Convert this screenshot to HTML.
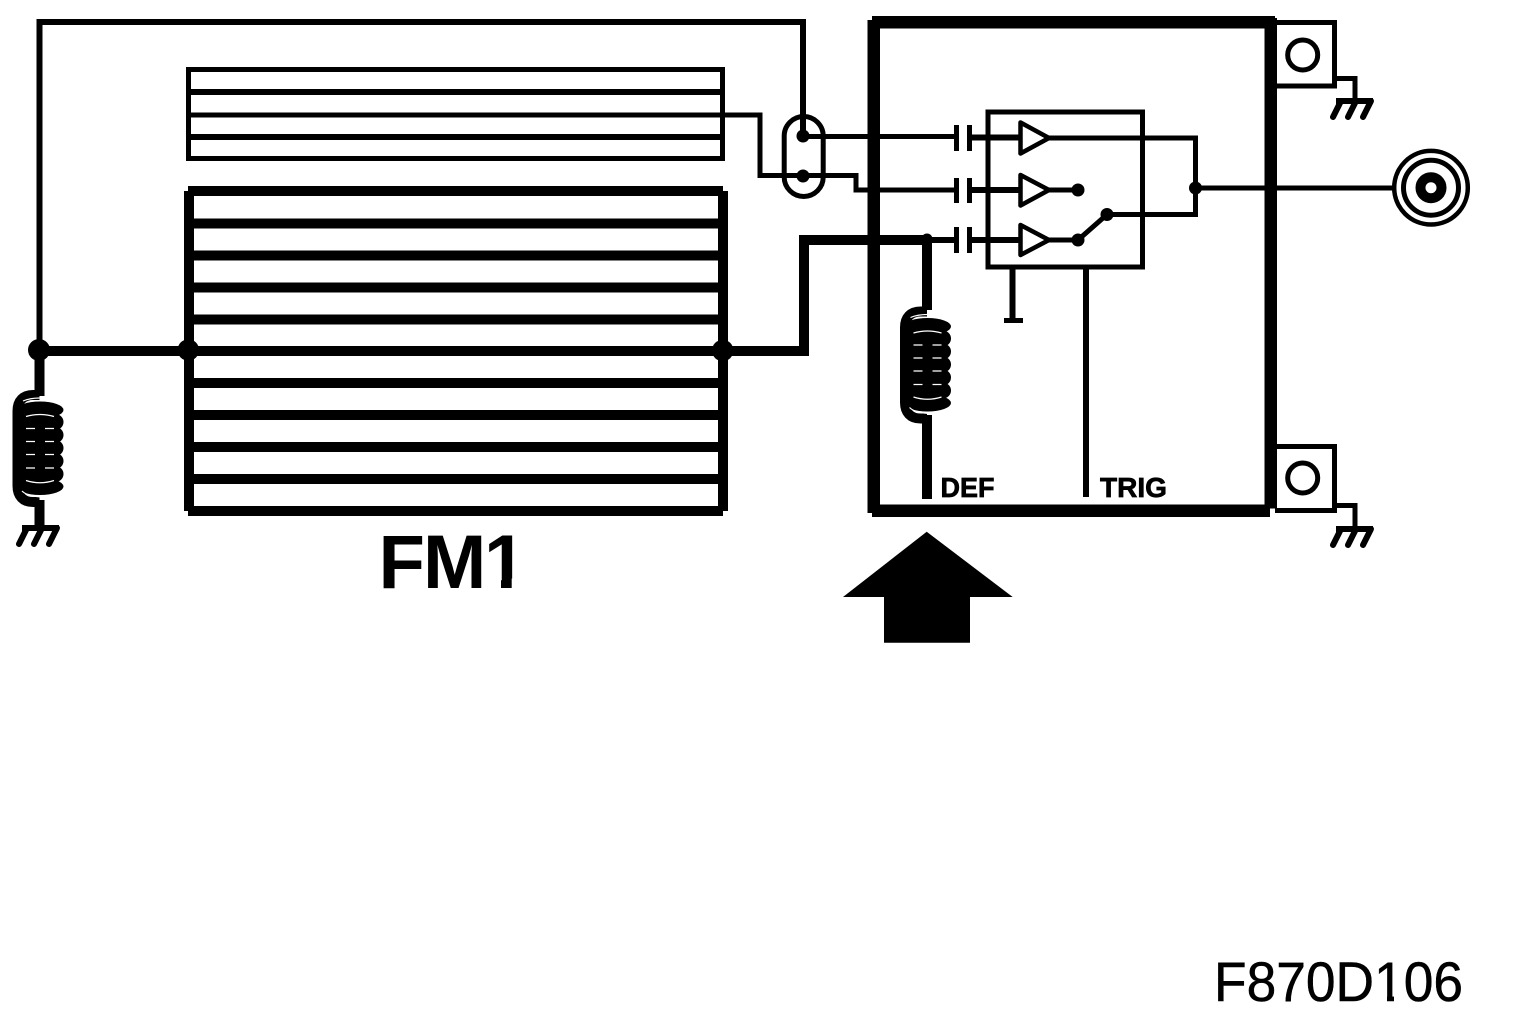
<!DOCTYPE html>
<html>
<head>
<meta charset="utf-8">
<style>
html,body{margin:0;padding:0;background:#fff;width:1520px;height:1028px;overflow:hidden}
svg{display:block}
text{font-family:"Liberation Sans",sans-serif;fill:#000}
</style>
</head>
<body>
<svg width="1520" height="1028" viewBox="0 0 1520 1028" xmlns="http://www.w3.org/2000/svg">
<defs>
  <g id="coil">
    <path d="M39.5 395 H33 C23 395 17.500 401 17.500 411 V486 C17.500 496 23 502 33 502 H39.5" fill="none" stroke="#000" stroke-width="10"/>
    <rect x="17" y="408" width="39.500" height="80" fill="#000"/>
    <g fill="#000">
      <ellipse cx="40" cy="410" rx="23.500" ry="8.500"/>
      <ellipse cx="40" cy="486.500" rx="23.500" ry="8.500"/>
      <circle cx="55.500" cy="422" r="8"/>
      <circle cx="55.500" cy="435" r="8"/>
      <circle cx="55.500" cy="448" r="8"/>
      <circle cx="55.500" cy="461" r="8"/>
      <circle cx="55.500" cy="474" r="8"/>
    </g>
    <g fill="none" stroke="#fff" stroke-width="1.200">
      <path d="M23 401 Q30 398 40 398"/>
      <path d="M22 491 Q28 497 44 497"/>
      <path d="M26 416.500 Q40 412.500 54 416.500"/>
      <path d="M26 428.500 H35 M45 428.500 H54"/>
      <path d="M26 441.500 H35 M45 441.500 H54"/>
      <path d="M26 454.500 H35 M45 454.500 H54"/>
      <path d="M26 468 H35 M45 468 H54"/>
      <path d="M26 480.500 Q40 485 54 480.500"/>
    </g>
  </g>
  <g id="gnd" fill="none" stroke="#000" stroke-width="6">
    <path d="M0 3 H37" />
    <path d="M5 3 L-3 19 M20 3 L12 19 M35 3 L27 19" stroke-linecap="round"/>
  </g>
</defs>

<rect width="1520" height="1028" fill="#fff"/>

<g fill="none" stroke="#000" shape-rendering="crispEdges">
  <!-- upper thin FM -->
  <rect x="188.500" y="69.500" width="534" height="89" stroke-width="5"/>
  <path d="M188 92 H723 M188 137 H723" stroke-width="6"/>
  <path d="M188 115 H760 V175.500 H856 V190 H954" stroke-width="5"/>
  <!-- big FM -->
  <path d="M188 191 H723 M188 511 H723" stroke-width="10"/>
  <path d="M189 191 V511 M723 191 V511" stroke-width="10"/>
  <path d="M188 223.500 H723 M188 255.500 H723 M188 287.500 H723 M188 319.500 H723 M188 383 H723 M188 415 H723 M188 447 H723 M188 479 H723" stroke-width="10"/>
  <!-- bus -->
  <path d="M39 351 H804 V240 H927" stroke-width="10"/>
  <path d="M39.700 350 V22 H803 V136" stroke-width="6"/>
  <path d="M39.500 350 V396 M39.500 500 V527" stroke-width="10"/>
  <!-- main box -->
  <path d="M873.700 20 V513 M1270.500 18 V508.500" stroke-width="12.500"/>
  <path d="M872 22 H1275 M872 510.500 H1270" stroke-width="12.500"/>
  <!-- inputs -->
  <path d="M803 136.500 H954" stroke-width="5"/>
  <path d="M927 240 H954" stroke-width="6"/>
  <!-- caps -->
  <path d="M956.500 125 V151 M969.500 125 V151 M956.500 178 V203 M969.500 178 V203 M956.500 227 V253 M969.500 227 V253" stroke-width="5"/>
  <path d="M970 137.500 H1020 M970 190 H1020 M970 240 H1020" stroke-width="6"/>
  <!-- switch box -->
  <rect x="988" y="112" width="154.500" height="155" stroke-width="5"/>
  <!-- output wires -->
  <path d="M1048 138 H1195.500 V214.500 H1107" stroke-width="5"/>
  <path d="M1048 190 H1078 M1048 240 H1078" stroke-width="5"/>
  <path d="M1195 188 H1393" stroke-width="5"/>
  <!-- lower wires -->
  <path d="M927 240 V310 M927 415 V499" stroke-width="10"/>
  <path d="M1012.500 267 V320" stroke-width="6"/>
  <path d="M1004 320.500 H1023" stroke-width="5"/>
  <path d="M1086 267 V497" stroke-width="6"/>
  <!-- right small boxes -->
  <path d="M1275 22.500 H1334.500 V86 H1275" stroke-width="5"/>
  <path d="M1275 446.500 H1334.500 V510.500 H1275" stroke-width="5"/>
  <path d="M1335 78.500 H1355 V99" stroke-width="5"/>
  <path d="M1335 505.500 H1355 V527" stroke-width="5"/>
</g>

<!-- curved / diagonal items -->
<g fill="none" stroke="#000">
  <rect x="784.200" y="116.500" width="39" height="80" rx="19.500" ry="19.500" stroke-width="5"/>
  <polygon points="1020.500,122.500 1049,138 1020.500,153.500" stroke-width="4.500" stroke-linejoin="round"/>
  <polygon points="1020.500,175 1049,190 1020.500,205.500" stroke-width="4.500" stroke-linejoin="round"/>
  <polygon points="1020.500,225 1049,240 1020.500,255" stroke-width="4.500" stroke-linejoin="round"/>
  <path d="M1078 240 L1107 214.500" stroke-width="5"/>
  <circle cx="1302.700" cy="55" r="15" stroke-width="5"/>
  <circle cx="1302.700" cy="478" r="15" stroke-width="5"/>
  <circle cx="1431" cy="187.700" r="36.800" stroke-width="4.500"/>
  <circle cx="1431" cy="187.700" r="27.500" stroke-width="5"/>
  <circle cx="1431" cy="187.700" r="10.500" stroke-width="10"/>
</g>

<!-- dots -->
<g fill="#000">
  <circle cx="39" cy="350" r="11"/>
  <circle cx="188.300" cy="350" r="10.700"/>
  <circle cx="722.700" cy="350.500" r="10.700"/>
  <circle cx="803" cy="136" r="6.500"/>
  <circle cx="803" cy="176" r="6.500"/>
  <circle cx="927" cy="239" r="5.500"/>
  <circle cx="1078" cy="190" r="6.500"/>
  <circle cx="1078" cy="240" r="6.500"/>
  <circle cx="1107" cy="214.500" r="6.500"/>
  <circle cx="1195.500" cy="188" r="6.500"/>
  <polygon points="926.700,531.700 1012.700,597 970,597 970,642.700 884,642.700 884,597 843,597"/>
</g>

<!-- coils -->
<use href="#coil"/>
<use href="#coil" transform="translate(887.500,-83.500)"/>

<!-- grounds -->
<use href="#gnd" transform="translate(22,525)"/>
<use href="#gnd" transform="translate(1336,98)"/>
<use href="#gnd" transform="translate(1336,526)"/>

<!-- labels -->
<text x="378.500 423 484" y="588" font-size="76" font-weight="700">FM1</text>
<rect x="511.700" y="578.500" width="18" height="12" fill="#fff"/>
<rect x="483" y="578.500" width="18" height="12" fill="#fff"/>
<text x="940.500" y="497" font-size="28" font-weight="700" stroke="#000" stroke-width="0.700" textLength="54" lengthAdjust="spacingAndGlyphs">DEF</text>
<text x="1100" y="497" font-size="28" font-weight="700" stroke="#000" stroke-width="0.700" textLength="67" lengthAdjust="spacingAndGlyphs">TRIG</text>
<text x="1214" y="1001" font-size="56" stroke="#000" stroke-width="0.500" textLength="249" lengthAdjust="spacingAndGlyphs">F870D106</text>
<rect x="1376" y="995" width="11" height="8" fill="#fff"/>
<rect x="1394" y="995" width="9" height="8" fill="#fff"/>
</svg>
</body>
</html>
